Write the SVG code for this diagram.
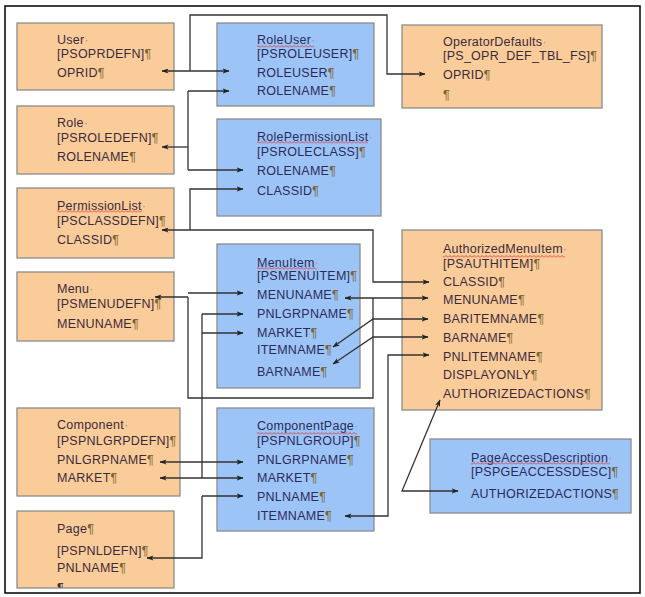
<svg xmlns="http://www.w3.org/2000/svg" width="645" height="597" viewBox="0 0 645 597">
<style>
.or{fill:#FACC9A;stroke:#8c8c8c;stroke-width:1.3}
.bl{fill:#9DC4F6;stroke:#8c8c8c;stroke-width:1.3}
text{font-family:"Liberation Sans",Arial,sans-serif;font-size:12.5px;letter-spacing:0.25px}
.to{fill:#3a2b3c}
.tb{fill:#2b2b5c}
.p{fill:#7a6330}
.d{fill:#999}
.c{fill:none;stroke:#333;stroke-width:1.3}
.s{marker-end:url(#ah)}
.b{marker-start:url(#ah);marker-end:url(#ah)}
.w{fill:url(#wavy)}
</style>
<defs>
<marker id="ah" viewBox="0 0 7 6" refX="6.5" refY="3" markerWidth="7" markerHeight="6" markerUnits="userSpaceOnUse" orient="auto-start-reverse">
<path d="M0,0.4 L7,3 L0,5.6 L1.8,3 z" fill="#222"/>
</marker>
<pattern id="wavy" width="4" height="3" patternUnits="userSpaceOnUse">
<path d="M0,2.5 L2,0.5 L4,2.5" stroke="#e02828" stroke-width="0.8" fill="none"/>
</pattern>
<clipPath id="pgclip"><rect x="17" y="511" width="157" height="77"/></clipPath>
</defs>
<rect x="0" y="0" width="645" height="597" fill="#fff"/>
<rect x="5" y="6" width="635" height="587" fill="#fff" stroke="#000" stroke-width="1.5"/>

<g id="user">
<rect class="or" x="17" y="23" width="157" height="67"/>
<text class="to" x="57" y="44">User<tspan class="d">·</tspan></text>
<text class="to" x="57" y="58">[PSOPRDEFN]<tspan class="p">¶</tspan></text>
<text class="to" x="57" y="76.5">OPRID<tspan class="p">¶</tspan></text>
</g>
<g id="role">
<rect class="or" x="17" y="106" width="157" height="68"/>
<text class="to" x="57" y="127">Role<tspan class="d">·</tspan></text>
<text class="to" x="57" y="142">[PSROLEDEFN]<tspan class="p">¶</tspan></text>
<text class="to" x="57" y="160.5">ROLENAME<tspan class="p">¶</tspan></text>
</g>
<g id="permissionlist">
<rect class="or" x="17" y="188" width="157" height="70"/>
<text class="to" x="57" y="210">PermissionList<tspan class="d">·</tspan></text>
<rect class="w" x="57" y="210" width="85" height="3"/>
<text class="to" x="57" y="225">[PSCLASSDEFN]<tspan class="p">¶</tspan></text>
<text class="to" x="57" y="244">CLASSID<tspan class="p">¶</tspan></text>
</g>
<g id="menu">
<rect class="or" x="17" y="272" width="157" height="69"/>
<text class="to" x="57" y="293">Menu<tspan class="d">·</tspan></text>
<text class="to" x="57" y="308">[PSMENUDEFN]<tspan class="p">¶</tspan></text>
<text class="to" x="57" y="328">MENUNAME<tspan class="p">¶</tspan></text>
</g>
<g id="component">
<rect class="or" x="17" y="408" width="163" height="88"/>
<text class="to" x="57" y="429">Component<tspan class="d">·</tspan></text>
<text class="to" x="57" y="445">[PSPNLGRPDEFN]<tspan class="p">¶</tspan></text>
<text class="to" x="57" y="464">PNLGRPNAME<tspan class="p">¶</tspan></text>
<text class="to" x="57" y="482">MARKET<tspan class="p">¶</tspan></text>
</g>
<g id="page">
<rect class="or" x="17" y="511" width="157" height="77"/>
<g clip-path="url(#pgclip)">
<text class="to" x="57" y="533">Page<tspan class="p">¶</tspan></text>
<text class="to" x="57" y="555">[PSPNLDEFN]<tspan class="p">¶</tspan></text>
<text class="to" x="57" y="572">PNLNAME<tspan class="p">¶</tspan></text>
<text class="to" x="57" y="592">¶</text>
</g>
</g>
<g id="roleuser">
<rect class="bl" x="217" y="23" width="157" height="83"/>
<text class="tb" x="257" y="44">RoleUser<tspan class="d">·</tspan></text>
<rect class="w" x="257" y="45" width="57" height="3"/>
<text class="tb" x="257" y="58">[PSROLEUSER]<tspan class="p">¶</tspan></text>
<text class="tb" x="257" y="77">ROLEUSER<tspan class="p">¶</tspan></text>
<text class="tb" x="257" y="95">ROLENAME<tspan class="p">¶</tspan></text>
</g>
<g id="rolepermissionlist">
<rect class="bl" x="217" y="119" width="164" height="97"/>
<text class="tb" x="257" y="141">RolePermissionList<tspan class="d">·</tspan></text>
<rect class="w" x="257" y="141" width="111" height="3"/>
<text class="tb" x="257" y="155.5">[PSROLECLASS]<tspan class="p">¶</tspan></text>
<text class="tb" x="257" y="175">ROLENAME<tspan class="p">¶</tspan></text>
<text class="tb" x="257" y="194.5">CLASSID<tspan class="p">¶</tspan></text>
</g>
<g id="menuitem">
<rect class="bl" x="217" y="244" width="143" height="144"/>
<text class="tb" x="257" y="266.5">MenuItem<tspan class="d">·</tspan></text>
<rect class="w" x="257" y="267" width="60" height="3"/>
<text class="tb" x="257" y="280">[PSMENUITEM]<tspan class="p">¶</tspan></text>
<text class="tb" x="257" y="299">MENUNAME<tspan class="p">¶</tspan></text>
<text class="tb" x="257" y="318">PNLGRPNAME<tspan class="p">¶</tspan></text>
<text class="tb" x="257" y="336.5">MARKET<tspan class="p">¶</tspan></text>
<text class="tb" x="257" y="354">ITEMNAME<tspan class="p">¶</tspan></text>
<text class="tb" x="257" y="375.5">BARNAME<tspan class="p">¶</tspan></text>
</g>
<g id="componentpage">
<rect class="bl" x="217" y="408" width="157" height="123"/>
<text class="tb" x="257" y="430">ComponentPage<tspan class="d">·</tspan></text>
<rect class="w" x="257" y="432" width="100" height="3"/>
<text class="tb" x="257" y="444.5">[PSPNLGROUP]<tspan class="p">¶</tspan></text>
<text class="tb" x="257" y="464">PNLGRPNAME<tspan class="p">¶</tspan></text>
<text class="tb" x="257" y="482">MARKET<tspan class="p">¶</tspan></text>
<text class="tb" x="257" y="501">PNLNAME<tspan class="p">¶</tspan></text>
<text class="tb" x="257" y="519.5">ITEMNAME<tspan class="p">¶</tspan></text>
</g>
<g id="operatordefaults">
<rect class="or" x="402" y="25" width="200" height="83"/>
<text class="to" x="443" y="46">OperatorDefaults<tspan class="d">·</tspan></text>
<text class="to" x="443" y="59.5">[PS_OPR_DEF_TBL_FS]<tspan class="p">¶</tspan></text>
<text class="to" x="443" y="79">OPRID<tspan class="p">¶</tspan></text>
<text class="to" x="443" y="99"><tspan class="p">¶</tspan></text>
</g>
<g id="authorizedmenuitem">
<rect class="or" x="402" y="230" width="200" height="180"/>
<text class="to" x="443" y="253">AuthorizedMenuItem<tspan class="d">·</tspan></text>
<rect class="w" x="443" y="255" width="122" height="3"/>
<text class="to" x="443" y="267.5">[PSAUTHITEM]<tspan class="p">¶</tspan></text>
<text class="to" x="443" y="285.5">CLASSID<tspan class="p">¶</tspan></text>
<text class="to" x="443" y="304">MENUNAME<tspan class="p">¶</tspan></text>
<text class="to" x="443" y="323">BARITEMNAME<tspan class="p">¶</tspan></text>
<text class="to" x="443" y="341.5">BARNAME<tspan class="p">¶</tspan></text>
<text class="to" x="443" y="360.5">PNLITEMNAME<tspan class="p">¶</tspan></text>
<text class="to" x="443" y="379">DISPLAYONLY<tspan class="p">¶</tspan></text>
<text class="to" x="443" y="398">AUTHORIZEDACTIONS<tspan class="p">¶</tspan></text>
</g>
<g id="pageaccessdescription">
<rect class="bl" x="430" y="439" width="201" height="74"/>
<text class="tb" x="471" y="461.5">PageAccessDescription<tspan class="d">·</tspan></text>
<rect class="w" x="471" y="462" width="139" height="3"/>
<text class="tb" x="471" y="476">[PSPGEACCESSDESC]<tspan class="p">¶</tspan></text>
<text class="tb" x="471" y="498">AUTHORIZEDACTIONS<tspan class="p">¶</tspan></text>
</g>

<g id="connectors">
<path class="c b" d="M162,71 H229"/>
<path class="c s" d="M190,71 V15 H387 V74 H425"/>
<path class="c" d="M188,147 V91 M188,147 V170"/>
<path class="c s" d="M188,147 H162"/>
<path class="c s" d="M188,91 H229"/>
<path class="c s" d="M188,170 H243"/>
<path class="c s" d="M190,230 V189 H243"/>
<path class="c b" d="M162,230 H373 V282 H429"/>
<path class="c s" d="M188,293 H243"/>
<path class="c s" d="M188,297 V398 H373 V298 M188,297 H155"/>
<path class="c b" d="M345,298 H428"/>
<path class="c" d="M202,314 V478"/>
<path class="c s" d="M202,314 H243"/>
<path class="c s" d="M202,333 H243"/>
<path class="c b" d="M160,462 H243"/>
<path class="c b" d="M160,478 H243"/>
<path class="c s" d="M202,496 H243"/>
<path class="c s" d="M202,496 V558 H147"/>
<path class="c b" d="M428,319 H373 L333,347"/>
<path class="c b" d="M428,337 H373 L333,364"/>
<path class="c b" d="M429,355 H388 V516 H345"/>
<path class="c b" d="M440,400 L402,491 H458"/>
</g>
</svg>
